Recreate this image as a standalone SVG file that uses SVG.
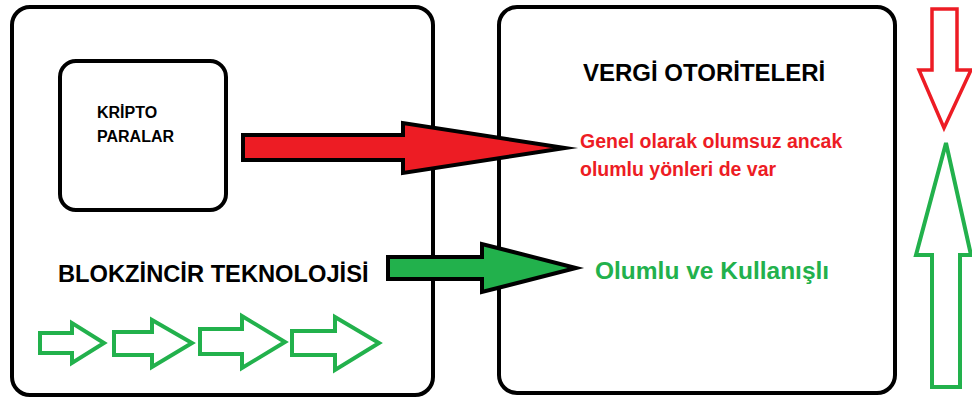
<svg xmlns="http://www.w3.org/2000/svg" width="972" height="399" viewBox="0 0 972 399">
<style>
.box{fill:#fff;stroke:#000;stroke-width:4}
.t{font-family:"Liberation Sans",Arial,sans-serif;font-weight:bold}
.fat{stroke:#000;stroke-width:4;stroke-linejoin:miter;stroke-miterlimit:10}
.og{fill:#fff;stroke:#22B14C;stroke-width:4;stroke-linejoin:miter}
.or{fill:#fff;stroke:#ED1C24;stroke-width:3.5;stroke-linejoin:miter}
</style>
<rect width="972" height="399" fill="#fff"/>
<g id="blokzincir">
<rect class="box" x="12" y="7" width="421" height="388" rx="18"/>
<text class="t" x="58" y="282" font-size="23.7" fill="#000">BLOKZİNCİR TEKNOLOJİSİ</text>
</g>
<g id="kripto">
<rect class="box" x="60" y="61" width="166" height="149" rx="16"/>
<text class="t" x="97" y="118" font-size="16" fill="#000">KRİPTO</text>
<text class="t" x="97" y="142" font-size="16" fill="#000">PARALAR</text>
</g>
<g id="vergi">
<rect class="box" x="499" y="7" width="396" height="386" rx="18"/>
<text class="t" x="583" y="81" font-size="24" fill="#000">VERGİ OTORİTELERİ</text>
<text class="t" x="580" y="148" font-size="19.5" fill="#ED1C24">Genel olarak olumsuz ancak</text>
<text class="t" x="580" y="176" font-size="19.5" fill="#ED1C24">olumlu yönleri de var</text>
<text class="t" x="595" y="279" font-size="24.5" fill="#22B14C">Olumlu ve Kullanışlı</text>
</g>
<g id="connectors">
<polygon class="fat" fill="#ED1C24" points="243,135 403,135 403,123 565,148 403,173 403,160 243,160"/>
<polygon class="fat" fill="#22B14C" points="388,257 482,257 482,244 576,268 482,292 482,279 388,279"/>
</g>
<g id="small-arrows">
<polygon class="og" points="40,333 72,333 72,323 104,343 72,363 72,353 40,353"/>
<polygon class="og" points="114,332 152,332 152,320 192,343 152,367 152,355 114,355"/>
<polygon class="og" points="200,329 242,329 242,316 285,342 242,368 242,354 200,354"/>
<polygon class="og" points="292,331 335,331 335,317 379,343 335,370 335,355 292,355"/>
</g>
<g id="side-arrows">
<polygon class="or" points="932,9 957,9 957,70 971,70 944,128 919,70 932,70"/>
<polygon class="og" points="946,143 971,255 960,255 960,387 932,387 932,255 916,255"/>
</g>
</svg>
